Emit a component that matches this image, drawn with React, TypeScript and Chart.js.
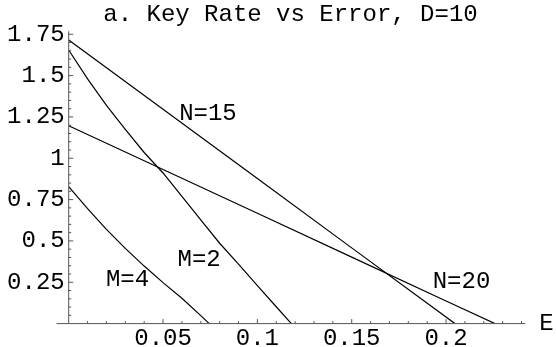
import { useEffect, useRef } from 'react';
import { Chart, registerables } from 'chart.js';

Chart.register(...registerables);

const TITLE = 'a. Key Rate vs Error, D=10';
const X_AXIS_LABEL = 'E';

// Curves (E = error, rate = key rate)
const errN15 = [0, 0.05, 0.1, 0.15, 0.2047];
const rateN15 = [1.716, 1.297, 0.878, 0.458, 0];

const errN20 = [0, 0.05, 0.1, 0.15, 0.2, 0.2259];
const rateN20 = [1.197, 0.932, 0.667, 0.402, 0.137, 0];

const errM2 = [0, 0.01, 0.02, 0.03, 0.04, 0.05, 0.06, 0.07, 0.08, 0.09, 0.1, 0.11, 0.118];
const rateM2 = [1.655, 1.48, 1.32, 1.175, 1.035, 0.911, 0.769, 0.627, 0.486, 0.36, 0.23, 0.102, 0];

const errM4 = [0, 0.01, 0.02, 0.03, 0.04, 0.05, 0.06, 0.07, 0.0745];
const rateM4 = [0.828, 0.695, 0.57, 0.455, 0.348, 0.248, 0.153, 0.048, 0];

// In-plot curve labels (data coordinates)
const curveNames = ['N=15', 'N=20', 'M=2', 'M=4'];
const curveLabelErr = [0.0738, 0.2082, 0.0691, 0.0312];
const curveLabelRate = [1.268, 0.252, 0.385, 0.264];

// Axis ranges and ticks
const X_MIN = 0;
const X_MAX = 0.242;
const X_AXIS_START = -0.0064;
const Y_MIN = 0;
const Y_MAX = 1.768;

const xMajorTicks = [0.05, 0.1, 0.15, 0.2];
const xTickLabels = ['0.05', '0.1', '0.15', '0.2'];
const xMinorTicks = [
  0.01, 0.02, 0.03, 0.04, 0.05, 0.06, 0.07, 0.08, 0.09, 0.1, 0.11, 0.12,
  0.13, 0.14, 0.15, 0.16, 0.17, 0.18, 0.19, 0.2, 0.21, 0.22, 0.23, 0.24,
];
const yMajorTicks = [0.25, 0.5, 0.75, 1, 1.25, 1.5, 1.75];
const yTickLabels = ['0.25', '0.5', '0.75', '1', '1.25', '1.5', '1.75'];
const yMinorTicks = [
  0.05, 0.1, 0.15, 0.2, 0.25, 0.3, 0.35, 0.4, 0.45, 0.5, 0.55, 0.6, 0.65, 0.7,
  0.75, 0.8, 0.85, 0.9, 0.95, 1, 1.05, 1.1, 1.15, 1.2, 1.25, 1.3, 1.35, 1.4,
  1.45, 1.5, 1.55, 1.6, 1.65, 1.7, 1.75,
];

const FONT_FAMILY = '"Liberation Mono", "DejaVu Sans Mono", monospace';
const FONT_SIZE = 24;

const toPoints = (xs: number[], ys: number[]) => xs.map((x, i) => ({ x, y: ys[i] }));

const isMajor = (v: number, majors: number[]) => majors.some((m) => Math.abs(m - v) < 1e-9);

const axesPlugin = {
  id: 'mathAxes',
  afterDatasetsDraw(chart: any) {
    const { ctx, scales } = chart;
    const xs = scales.x;
    const ys = scales.y;
    const x0 = xs.getPixelForValue(0);
    const y0 = ys.getPixelForValue(0);
    ctx.save();
    ctx.strokeStyle = '#555';
    ctx.lineWidth = 1;
    ctx.beginPath();
    ctx.moveTo(xs.getPixelForValue(X_AXIS_START), y0);
    ctx.lineTo(xs.right, y0);
    ctx.moveTo(x0, y0);
    ctx.lineTo(x0, ys.top);
    xMinorTicks.forEach((v) => {
      const px = xs.getPixelForValue(v);
      const len = isMajor(v, xMajorTicks) ? 4.5 : 2.5;
      ctx.moveTo(px, y0);
      ctx.lineTo(px, y0 - len);
    });
    yMinorTicks.forEach((v) => {
      const py = ys.getPixelForValue(v);
      const len = isMajor(v, yMajorTicks) ? 4.5 : 2.5;
      ctx.moveTo(x0, py);
      ctx.lineTo(x0 + len, py);
    });
    ctx.stroke();

    ctx.fillStyle = '#000';
    ctx.font = `${FONT_SIZE}px ${FONT_FAMILY}`;
    // axis label
    ctx.textAlign = 'left';
    ctx.textBaseline = 'middle';
    ctx.fillText(X_AXIS_LABEL, xs.right + 14, y0);
    // curve labels
    ctx.textAlign = 'center';
    curveNames.forEach((name, i) => {
      ctx.fillText(name, xs.getPixelForValue(curveLabelErr[i]), ys.getPixelForValue(curveLabelRate[i]));
    });
    // title
    ctx.fillText(TITLE, 290.5, 15);
    ctx.restore();
  },
};

export default function App() {
  const canvasRef = useRef<HTMLCanvasElement | null>(null);

  useEffect(() => {
    if (!canvasRef.current) return;
    const lineStyle = {
      borderColor: '#000',
      borderWidth: 1.2,
      pointRadius: 0,
      fill: false,
      tension: 0,
    };
    const chart = new Chart(canvasRef.current, {
      type: 'line',
      data: {
        datasets: [
          { label: curveNames[0], data: toPoints(errN15, rateN15), ...lineStyle },
          { label: curveNames[1], data: toPoints(errN20, rateN20), ...lineStyle },
          { label: curveNames[2], data: toPoints(errM2, rateM2), ...lineStyle },
          { label: curveNames[3], data: toPoints(errM4, rateM4), ...lineStyle },
        ],
      },
      options: {
        responsive: false,
        animation: false,
        devicePixelRatio: 1,
        layout: { padding: { top: 31.3, right: 30.7, left: 0, bottom: 0 } },
        plugins: {
          legend: { display: false },
          tooltip: { enabled: false },
          title: { display: false },
        },
        scales: {
          x: {
            type: 'linear',
            min: X_MIN,
            max: X_MAX,
            grid: { display: false, drawTicks: false },
            border: { display: false },
            afterFit: (scale: any) => {
              scale.height = 23.4;
            },
            afterBuildTicks: (scale: any) => {
              scale.ticks = xMajorTicks.map((value) => ({ value }));
            },
            ticks: {
              autoSkip: false,
              maxRotation: 0,
              padding: 1,
              color: '#000',
              font: { family: FONT_FAMILY, size: FONT_SIZE },
              callback: (_v: any, i: number) => xTickLabels[i],
            },
          },
          y: {
            type: 'linear',
            min: Y_MIN,
            max: Y_MAX,
            grid: { display: false, drawTicks: false },
            border: { display: false },
            afterFit: (scale: any) => {
              scale.width = 68.7;
            },
            afterBuildTicks: (scale: any) => {
              scale.ticks = yMajorTicks.map((value) => ({ value }));
            },
            ticks: {
              autoSkip: false,
              padding: 4,
              color: '#000',
              font: { family: FONT_FAMILY, size: FONT_SIZE },
              callback: (_v: any, i: number) => yTickLabels[i],
            },
          },
        },
      },
      plugins: [axesPlugin],
    } as any);
    return () => chart.destroy();
  }, []);

  return (
    <div style={{ position: 'fixed', left: 0, top: 0, width: 556, height: 347, background: '#fff' }}>
      <canvas ref={canvasRef} width={556} height={347} style={{ display: 'block' }} />
    </div>
  );
}
